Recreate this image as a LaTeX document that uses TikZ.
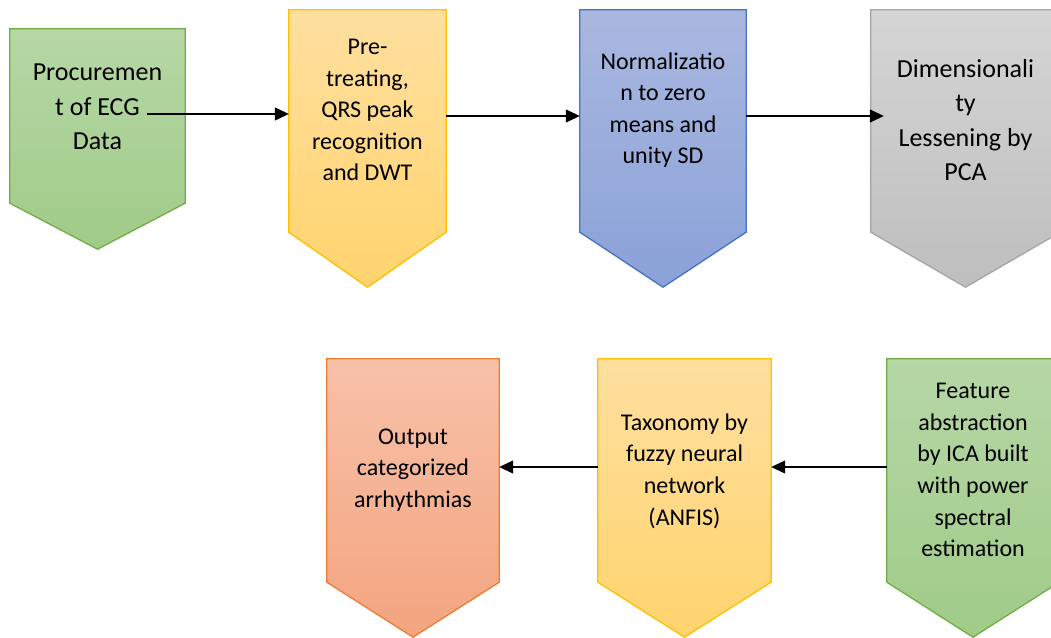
\documentclass[tikz,border=0pt]{standalone}
\usepackage{fontspec}
\setmainfont{Carlito}
\usetikzlibrary{arrows.meta}
\definecolor{greentop}{HTML}{B6D7A6}
\definecolor{greenbot}{HTML}{A0CB88}
\definecolor{greenline}{HTML}{70AD47}
\definecolor{yellowtop}{HTML}{FFDF9F}
\definecolor{yellowbot}{HTML}{FFD46E}
\definecolor{yellowline}{HTML}{FFC000}
\definecolor{bluetop}{HTML}{A9B8E0}
\definecolor{bluebot}{HTML}{8AA1D8}
\definecolor{blueline}{HTML}{4472C4}
\definecolor{graytop}{HTML}{D5D5D5}
\definecolor{graybot}{HTML}{BEBEBE}
\definecolor{grayline}{HTML}{A5A5A5}
\definecolor{orangetop}{HTML}{F7C1A9}
\definecolor{orangebot}{HTML}{F4A47F}
\definecolor{orangeline}{HTML}{ED7D31}

\begin{document}
\begin{tikzpicture}[x=1pt,y=-1pt,
 every node/.style={inner sep=0pt},
 body/.style={minimum width=#1},
 chev/.style={line width=1.3pt,line join=miter},
 txt/.style={align=center,font=\fontsize{24}{31.6}\selectfont},
 bigtxt/.style={align=center,font=\fontsize{26}{34.5}\selectfont},
 arr/.style={-{Triangle[length=14pt,width=13pt]},draw=black,line width=1.2pt}]
\useasboundingbox (0,0) rectangle (1051,637);
% top row
\node[body=175pt,minimum height=174pt] (proc) at (97.5,116) {};
\path[chev,top color=greentop,bottom color=greenbot,draw=greenline] (proc.north west) -- (proc.north east)
 -- (proc.south east) -- ([yshift=-46pt]proc.south) -- (proc.south west) -- cycle;
\node[bigtxt] (proctxt) at (97.5,107) {Procuremen\\t of ECG\\Data};
\node[body=157pt,minimum height=222pt] (pre) at (367.5,121) {};
\path[chev,top color=yellowtop,bottom color=yellowbot,draw=yellowline] (pre.north west) -- (pre.north east)
 -- (pre.south east) -- ([yshift=-55pt]pre.south) -- (pre.south west) -- cycle;
\node[txt] (pretxt) at (367.5,110) {Pre-\\treating,\\QRS peak\\recognition\\and DWT};
\node[body=166pt,minimum height=222pt] (norm) at (663,121) {};
\path[chev,top color=bluetop,bottom color=bluebot,draw=blueline] (norm.north west) -- (norm.north east)
 -- (norm.south east) -- ([yshift=-55pt]norm.south) -- (norm.south west) -- cycle;
\node[txt] (normtxt) at (663,110) {Normalizatio\\n to zero\\means and\\unity SD};
\node[body=189pt,minimum height=222pt] (dim) at (965.5,121) {};
\path[chev,top color=graytop,bottom color=graybot,draw=grayline] (dim.north west) -- (dim.north east)
 -- (dim.south east) -- ([yshift=-55pt]dim.south) -- (dim.south west) -- cycle;
\node[bigtxt] (dimtxt) at (965.5,120) {Dimensionali\\ty\\Lessening by\\PCA};
% bottom row
\node[body=172pt,minimum height=223pt] (feat) at (973,470.5) {};
\path[chev,top color=greentop,bottom color=greenbot,draw=greenline] (feat.north west) -- (feat.north east)
 -- (feat.south east) -- ([yshift=-55pt]feat.south) -- (feat.south west) -- cycle;
\node[txt] (feattxt) at (973,470) {Feature\\abstraction\\by ICA built\\with power\\spectral\\estimation};
\node[body=173pt,minimum height=223pt] (taxo) at (684.5,470.5) {};
\path[chev,top color=yellowtop,bottom color=yellowbot,draw=yellowline] (taxo.north west) -- (taxo.north east)
 -- (taxo.south east) -- ([yshift=-55pt]taxo.south) -- (taxo.south west) -- cycle;
\node[txt] (taxotxt) at (684.5,471) {Taxonomy by\\fuzzy neural\\network\\(ANFIS)};
\node[body=172pt,minimum height=223pt] (outp) at (413,470.5) {};
\path[chev,top color=orangetop,bottom color=orangebot,draw=orangeline] (outp.north west) -- (outp.north east)
 -- (outp.south east) -- ([yshift=-55pt]outp.south) -- (outp.south west) -- cycle;
\node[txt] (outptxt) at (413,470) {Output\\categorized\\arrhythmias};
% connectors
\coordinate (ecg) at (147,114);
\draw[arr] (ecg) -- (ecg -| pre.west);
\draw[arr] ([yshift=5pt]pre.east) -- ([yshift=5pt]norm.west);
\draw[arr] ([yshift=5pt]norm.east) -- ([xshift=13pt,yshift=5pt]dim.west);
\draw[arr] ([yshift=3.5pt]feat.west) -- ([yshift=3.5pt]taxo.east);
\draw[arr] ([yshift=3.5pt]taxo.west) -- ([yshift=3.5pt]outp.east);
\end{tikzpicture}
\end{document}
